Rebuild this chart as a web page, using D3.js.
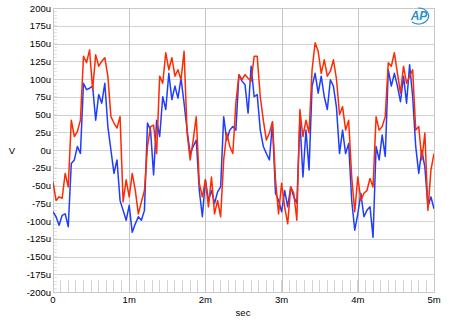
<!DOCTYPE html>
<html><head><meta charset="utf-8">
<script src="https://cdn.jsdelivr.net/npm/d3@7"></script>
<style>body{margin:0;background:#fff}svg{display:block}</style>
</head><body><svg id="c" width="450" height="325"></svg>
<script>
const sampleStep = 0.04; // ms
const redValues = [-45,-71,-66,-68,-33,-52,42,19,26,42,132,123,141,85,134,118,125,130,104,47,38,31,47,-73,-42,-66,-33,-57,-90,-73,-57,5,
33,35,-5,104,94,137,113,130,104,113,99,139,24,-14,14,47,-47,-66,-42,-80,-38,-90,-71,-94,-14,24,5,-5,66,106,99,
106,101,97,132,132,75,42,14,24,40,-42,-90,-47,-80,-104,-52,-61,-99,57,19,42,24,113,151,139,108,127,104,111,127,100,
50,61,28,42,-38,-87,-38,-71,-61,-57,-40,-52,47,28,33,47,123,118,137,108,80,118,94,104,113,28,33,-14,24,-85,-28,-5];
const blueValues = [-87,-94,-106,-92,-90,-108,-19,-14,5,-5,94,85,87,90,42,78,66,94,33,0,-33,-14,-71,-85,-99,-78,-116,-104,-94,-99,-85,38,
28,-35,42,19,75,57,108,71,90,73,101,66,28,-5,5,14,-57,-94,-42,-71,-57,-75,-59,-52,47,14,28,33,28,106,97,
92,52,118,75,78,28,5,-5,-14,38,-61,-71,-87,-57,-80,-52,-66,-75,42,-38,28,-28,90,108,80,104,75,57,99,90,60,
-5,28,-5,9,-71,-113,-90,-61,-94,-85,-80,-123,5,-14,21,-9,113,90,108,90,68,104,66,120,75,5,-33,0,-24,-80,-66,-83];
const yTicks = d3.range(-200, 201, 25);
const xTicks = [0,1,2,3,4,5];
const xTickLabels = ["0","1m","2m","3m","4m","5m"];

const svg = d3.select("#c");
const L=53,R=434,T=8,B=292;
const x = d3.scaleLinear().domain([0,5]).range([L,R]);
const y = d3.scaleLinear().domain([-200,200]).range([B,T]);
const font = "'Liberation Sans', Arial, sans-serif";

// minor ticks bottom
svg.append("g").selectAll("line").data(d3.range(0,5.001,0.1)).join("line")
  .attr("x1",d=>x(d)).attr("x2",d=>x(d)).attr("y1",B-12).attr("y2",B)
  .attr("stroke","#d4d4d4").attr("stroke-width",1).attr("shape-rendering","crispEdges");
// minor ticks left
svg.append("g").selectAll("line").data(d3.range(-200,200.001,5)).join("line")
  .attr("x1",L).attr("x2",L+4).attr("y1",d=>y(d)).attr("y2",d=>y(d))
  .attr("stroke","#e2e2e2").attr("shape-rendering","crispEdges");
// horizontal grid
svg.append("g").selectAll("line").data(yTicks).join("line")
  .attr("x1",L).attr("x2",R).attr("y1",d=>Math.round(y(d))+0.5).attr("y2",d=>Math.round(y(d))+0.5)
  .attr("stroke","#d2d2d2");
// vertical grid
svg.append("g").selectAll("line").data(xTicks.slice(1,-1)).join("line")
  .attr("x1",d=>Math.round(x(d))+0.5).attr("x2",d=>Math.round(x(d))+0.5).attr("y1",T).attr("y2",B)
  .attr("stroke","#c4c4c4");
// frame
svg.append("rect").attr("x",L+0.5).attr("y",T+0.5).attr("width",R-L).attr("height",B-T)
  .attr("fill","none").attr("stroke","#c8c8c8");

// y labels
svg.append("g").selectAll("text").data(yTicks).join("text")
  .attr("x",L-2).attr("y",d=>y(d)+3.5).attr("text-anchor","end")
  .attr("font-family",font).attr("font-size",9.5).attr("fill","#000")
  .text(d=>d+"u");
svg.append("g").selectAll("text").data(xTicks).join("text")
  .attr("x",d=>x(d)).attr("y",B+11).attr("text-anchor","middle")
  .attr("font-family",font).attr("font-size",9.5).attr("fill","#000")
  .text((d,i)=>xTickLabels[i]);
svg.append("text").attr("x",12).attr("y",y(0)+3.5).attr("text-anchor","middle")
  .attr("font-family",font).attr("font-size",9.5).text("V");
svg.append("text").attr("x",243).attr("y",316).attr("text-anchor","middle")
  .attr("font-family",font).attr("font-size",9.5).text("sec");

// clip
svg.append("clipPath").attr("id","cp").append("rect").attr("x",L).attr("y",T).attr("width",R-L).attr("height",B-T);
const line = d3.line().x((d,i)=>x(i*sampleStep)).y(d=>y(d));
const g = svg.append("g").attr("clip-path","url(#cp)");
g.append("path").datum(blueValues).attr("d",line).attr("fill","none").attr("stroke","#1f3dff").attr("stroke-width",1.5).attr("stroke-linejoin","round");
g.append("path").datum(redValues).attr("d",line).attr("fill","none").attr("stroke","#ff2a00").attr("stroke-width",1.5).attr("stroke-linejoin","round");

// AP logo
const logo = svg.append("g").attr("transform","translate(420,16)");
logo.append("path").attr("d","M -8 6 A 10 8 0 1 0 -2 -8").attr("fill","none").attr("stroke","#2a8fd0").attr("stroke-width",1.2);
logo.append("text").attr("x",-1).attr("y",4).attr("text-anchor","middle").attr("font-family",font)
  .attr("font-style","italic").attr("font-weight","bold").attr("font-size",12).attr("fill","#2a8fd0").text("AP");
</script></body></html>
